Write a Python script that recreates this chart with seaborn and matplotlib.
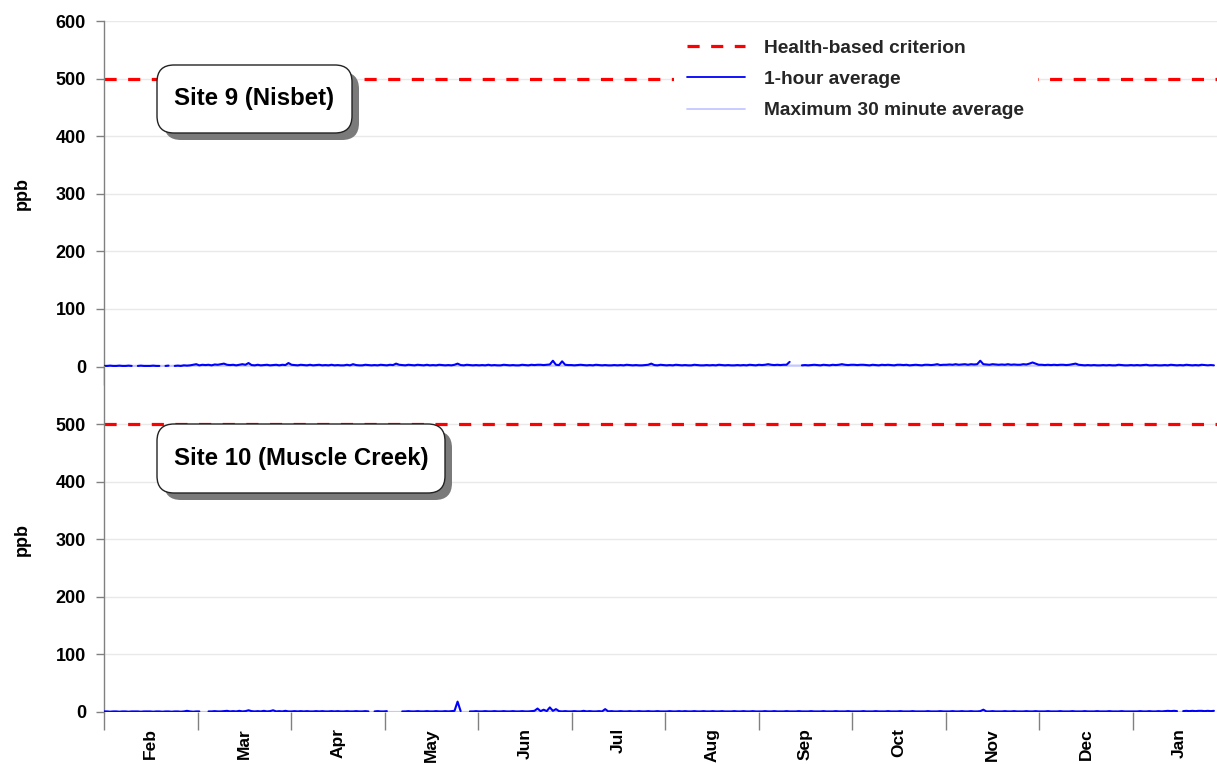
import numpy as np
import pandas as pd
import matplotlib
matplotlib.use("Agg")
import matplotlib.pyplot as plt
from matplotlib.lines import Line2D
from matplotlib.patches import FancyBboxPatch
import seaborn as sns

nan = np.nan

# ---- data -------------------------------------------------------------
months = ["Feb", "Mar", "Apr", "May", "Jun", "Jul",
          "Aug", "Sep", "Oct", "Nov", "Dec", "Jan"]
criterion_ppb = 500
y_ticks_top = [0, 100, 200, 300, 400, 500, 600]
y_ticks_bottom = [0, 100, 200, 300, 400, 500]

# Daily 1-hour average SO2 (ppb), Site 9 (Nisbet); NaN = no data
site9_hourly = [
    # Feb
    1, 1, 1.5, 1, 1, 1.5, 1, 1, 1.5, 1, nan, 1, 1.5, 1, 1, 1, 1.5, 1, 1, nan,
    1, 1.5, nan, 1, 1.5, 1, 2, 1.5, 2, 3,
    # Mar
    4, 2, 3, 2.5, 3, 2, 3.5, 3, 4, 5, 3, 2.5, 3, 2, 3, 4, 3, 6, 2.5, 2,
    3, 2, 2.5, 3, 2, 2.5, 3, 2, 3, 2.5, 6,
    # Apr
    3, 2.5, 2, 3, 2.5, 2, 3, 2, 2.5, 3, 2, 2.5, 2, 3, 2, 2.5, 2, 2, 3, 2,
    4, 2.5, 2, 2, 3, 2.5, 2, 2.5, 2, 3,
    # May
    2.5, 2, 3, 2.5, 5, 3, 2.5, 2, 3, 2.5, 2, 3, 2.5, 2, 3, 2, 2.5, 2, 3, 2.5,
    2, 2.5, 2, 3, 5, 2.5, 2, 3, 2.5, 2, 2.5,
    # Jun
    2, 2.5, 2, 3, 2, 2.5, 2, 2, 3, 2.5, 2, 2.5, 2, 2, 3, 2.5, 2, 3, 2.5, 3,
    3, 2.5, 3, 3.5, 10, 3, 2.5, 9, 3, 2.5,
    # Jul
    2.5, 2, 2.5, 3, 2.5, 2, 2.5, 2, 3, 2.5, 2, 2.5, 2, 2, 2.5, 2, 2.5, 2, 3, 2.5,
    2, 2.5, 2, 2, 2.5, 3, 5, 2.5, 2, 3, 2.5,
    # Aug
    2, 2.5, 2, 3, 2.5, 2, 2.5, 2, 2, 3, 2.5, 2, 2, 2.5, 2, 2.5, 2, 3, 2.5, 2,
    2.5, 2, 2, 2.5, 2, 2.5, 2, 3, 2.5, 2,
    # Sep
    3, 2.5, 3, 4, 3, 2.5, 3, 2.5, 3, 3, 8, nan, nan, nan, 2, 2.5, 2, 2.5, 3, 2.5,
    2, 3, 2.5, 2, 3, 2.5, 3, 4, 3, 2.5, 3,
    # Oct
    3, 2.5, 3, 3, 2.5, 2, 3, 2.5, 2, 3, 2.5, 3, 2.5, 2, 3, 3, 2.5, 3, 2, 2.5,
    3, 2.5, 2, 3, 3, 2.5, 3, 4, 2.5, 3,
    # Nov
    3, 3.5, 3, 4, 3, 3.5, 4, 3, 4, 3.5, 4, 10, 4, 3.5, 3, 4, 3.5, 3, 3.5, 3,
    4, 3, 3.5, 3, 3, 4, 3.5, 5, 7, 5, 3,
    # Dec
    3, 2.5, 3, 2.5, 3, 2.5, 3, 3, 2.5, 3, 4, 5, 3, 2.5, 2, 2.5, 2, 2.5, 2, 2,
    2.5, 2, 2.5, 2, 2, 3, 2.5, 2, 2, 2.5,
    # Jan
    2, 2.5, 2, 2.5, 3, 2, 2, 2.5, 2, 2, 2.5, 2, 3, 2.5, 2, 2.5, 2, 3, 2.5, 2,
    2.5, 2, 3, 2.5, 2, 2.5, 2,
]

# Daily 1-hour average SO2 (ppb), Site 10 (Muscle Creek)
site10_hourly = [
    # Feb
    1, 1, 0.5, 1, 1, 0.5, 1, 1, 0.5, 1, 1, 1, 0.5, 1, 1, 1, 0.5, 1, 1, 0.5,
    1, 1, 0.5, 1, 1, 0.5, 1, 2, 1, 0.5,
    # Mar
    1, 1, nan, nan, 1, 1, 1.5, 1, 1, 1.5, 2, 1, 1.5, 1, 2, 1, 1.5, 3, 1.5, 1,
    1.5, 1, 2, 1, 1.5, 3, 1, 1.5, 1, 2, 1,
    # Apr
    1, 1.5, 1, 1.5, 1, 1.5, 1, 1, 1.5, 1, 1.5, 1, 1, 1.5, 1, 1.5, 1, 1, 1.5, 1,
    1, 1.5, 1, 1, 1.5, 1, nan, 1, 1.5, 1,
    # May
    1, 1.5, nan, nan, nan, nan, 1, 1, 1.5, 1, 1, 1.5, 1, 1, 1.5, 1, 1, 1.5, 1, 1,
    1.5, 1, 1.5, 2, 18, 1.5, nan, nan, 1, 1, 1.5,
    # Jun
    1, 1, 1.5, 1, 1, 1.5, 1, 1, 1.5, 1, 1, 1.5, 1, 1, 1.5, 1, 1, 1.5, 2, 6,
    1.5, 4, 1.5, 8, 2, 5, 1.5, 1, 1.5, 1,
    # Jul
    1, 1.5, 1, 1, 2, 1, 1.5, 1, 1, 1.5, 1, 5, 1, 1.5, 1, 1, 1.5, 1, 1, 1.5,
    1, 1, 1.5, 1, 1, 1.5, 1, 1, 1.5, 1, 1,
    # Aug
    1, 1.5, 1, 1, 1.5, 1, 1.5, 1, 1, 1.5, 1, 1, 1.5, 1, 1, 1.5, 1, 1, 1.5, 1,
    1, 1, 1.5, 1, 1, 1.5, 1, 1, 1.5, 1,
    # Sep
    1, 1, 1.5, 1, 1, 1.5, 1, 1, 1, 1.5, 1, 1, 1, 1.5, 1, 1, 1, 1.5, 1, 1,
    1, 1.5, 1, 1, 1, 1.5, 1, 1, 1, 1.5, 1,
    # Oct
    1, 1, 1, 1.5, 1, 1, 1, 1.5, 1, 1, 1, 1.5, 1, 1, 1, 1.5, 1, 1, 1, 1.5,
    1, 1, 1, 1, 1.5, 1, 1, 1, 1.5, 1,
    # Nov
    1, 1, 1.5, 1, 1, 1.5, 1, 1, 1.5, 1, 1, 1.5, 4, 1, 1, 1.5, 1, 1, 1, 1.5,
    1, 1, 1.5, 1, 1, 1, 1.5, 1, 1, 1.5, 1,
    # Dec
    1, 1, 1.5, 1, 1, 1, 1.5, 1, 1, 1, 1.5, 1, 1, 1, 1.5, 1, 1, 1, 1.5, 1,
    1, 1, 1.5, 1, 1, 1, 1.5, 1, 1, 1,
    # Jan
    1, 1, 1.5, 1, 1, 1.5, 1, 1, 1.5, 1, 1.5, 2, 1.5, 2, 1.5, nan, 1.5, 2, 1.5, 2,
    1.5, 2, 2, 1.5, 2, 1.5, 2,
]

# Weekly maximum 30-minute average (ppb)
site9_max30 = [
    1, 1, 1, 1, 1.5, 1.5, 1.5, 1.5, 1.5, 1.5, 1.5, 1.5, 1.5,
    1.5, 1.5, 1.5, 1.5, 1.5, 1.5, 1.5, 1.5, 1.5, 1.5, 1.5, 1.5, 1.5,
    1.5, 1.5, 1.5, 1.5, 1.5, 1.5, 1.5, 1.5, 1.5, 1.5, 1.5, 1.5, 1.5,
    1.5, 1.5, 1.5, 1.5, 1.5, 1.5, 1.5, 1.5, 1.5, 1.5, 1.5, 1.5, 1.5,
]
site10_max30 = [
    0.5, 0.5, 0.5, 0.5, 0.5, 0.5, 0.5, 0.5, 0.5, 0.5, 0.5, 0.5, 0.5,
    0.5, 0.5, 0.5, 0.5, 0.5, 0.5, 0.5, 0.5, 0.5, 0.5, 0.5, 0.5, 0.5,
    0.5, 0.5, 0.5, 0.5, 0.5, 0.5, 0.5, 0.5, 0.5, 0.5, 0.5, 0.5, 0.5,
    0.5, 0.5, 0.5, 0.5, 0.5, 0.5, 0.5, 0.5, 0.5, 0.5, 0.5, 0.5, 0.5,
]

site_names = ["Site 9 (Nisbet)", "Site 10 (Muscle Creek)"]

# ---- styling ----------------------------------------------------------
sns.set_theme(style="white")
plt.rcParams["font.family"] = ["Liberation Sans", "DejaVu Sans"]
plt.rcParams["font.weight"] = "bold"

BLUE = "#0000ff"
LIGHT_BLUE = "#c4c8ff"
RED = "#ff0000"
AXIS_GREY = "#808080"
GRID_GREY = "#e9e9e9"
DASH = (0, (3.8, 3.6))

DAYS_PER_MONTH = 365 / 12
N_DAYS = len(site9_hourly)


def daily_frame(values):
    """Daily values as a frame; each run without gaps gets its own unit id."""
    df = pd.DataFrame({"day": np.arange(len(values)), "ppb": values})
    df["run"] = df["ppb"].isna().cumsum()
    return df.dropna()


def weekly_frame(values):
    return pd.DataFrame({"day": np.arange(len(values)) * 7.0, "ppb": values,
                         "run": 0})


fig, axes = plt.subplots(2, 1, figsize=(12.17, 7.64), dpi=100, sharex=True)
fig.subplots_adjust(left=104 / 1217, right=1.0, top=1 - 21 / 764,
                    bottom=1 - 712 / 764, hspace=0)

series = [(site9_hourly, site9_max30, y_ticks_top),
          (site10_hourly, site10_max30, y_ticks_bottom)]

boundaries = np.arange(len(months)) * DAYS_PER_MONTH
centres = boundaries + DAYS_PER_MONTH / 2

for ax, (hourly, max30, yticks) in zip(axes, series):
    sns.lineplot(data=weekly_frame(max30), x="day", y="ppb", units="run",
                 estimator=None, color=LIGHT_BLUE, lw=1.6, ax=ax,
                 legend=False, zorder=2)
    sns.lineplot(data=daily_frame(hourly), x="day", y="ppb", units="run",
                 estimator=None, color=BLUE, lw=1.5, ax=ax, legend=False,
                 zorder=3)
    ax.axhline(criterion_ppb, color=RED, lw=2.3, linestyle=DASH, zorder=2.5)

    ax.set_ylim(0, 600)
    ax.set_xlim(0, N_DAYS)
    ax.set_yticks(yticks)
    ax.set_yticklabels([str(v) for v in yticks], fontsize=13,
                       fontweight="bold", color="black")
    ax.yaxis.grid(True, color=GRID_GREY, lw=1)
    ax.xaxis.grid(False)
    ax.set_ylabel("ppb", fontsize=13, fontweight="bold", color="black",
                  labelpad=18)
    ax.set_xlabel("")

    for side in ("top", "right", "bottom"):
        ax.spines[side].set_visible(False)
    ax.spines["left"].set_color(AXIS_GREY)
    ax.spines["left"].set_linewidth(1)

    ax.tick_params(axis="y", which="major", left=True, length=6,
                   color=AXIS_GREY, width=1, pad=7)

    ax.set_xticks(boundaries)
    ax.set_xticklabels([""] * len(months))
    ax.set_xticks(centres, minor=True)
    ax.tick_params(axis="x", which="major", bottom=True, length=13,
                   color=AXIS_GREY, width=1)
    ax.tick_params(axis="x", which="minor", bottom=True, length=0)

axes[1].set_xticks(centres, minor=True)
axes[1].set_xticklabels(months, minor=True, rotation=90, fontsize=12.5,
                        fontweight="bold", color="black")
axes[1].tick_params(axis="x", which="minor", pad=11.5)
axes[0].tick_params(axis="x", which="both", labelbottom=False)

# ---- site label boxes (rounded, with drop shadow) --------------------
label_boxes = [
    # x0, y0, width, height in inches from the lower-left corner
    (1.57, 6.31, 1.95, 0.68),
    (1.57, 2.71, 2.88, 0.69),
]
for name, (x0, y0, w, h) in zip(site_names, label_boxes):
    shadow = FancyBboxPatch((x0 + 0.07, y0 - 0.07), w, h,
                            boxstyle="round,pad=0,rounding_size=0.17",
                            transform=fig.dpi_scale_trans, facecolor="#7a7a7a",
                            edgecolor="none", zorder=8)
    box = FancyBboxPatch((x0, y0), w, h,
                         boxstyle="round,pad=0,rounding_size=0.17",
                         transform=fig.dpi_scale_trans, facecolor="white",
                         edgecolor="#222222", lw=1.0, zorder=9)
    fig.add_artist(shadow)
    fig.add_artist(box)
    fig.text(x0 + w / 2, y0 + h / 2, name, transform=fig.dpi_scale_trans,
             ha="center", va="center", fontsize=17.3, fontweight="bold",
             color="black", zorder=10)

# ---- legend ------------------------------------------------------------
handles = [
    Line2D([], [], color=RED, lw=2.3, linestyle=DASH),
    Line2D([], [], color=BLUE, lw=1.3),
    Line2D([], [], color=LIGHT_BLUE, lw=1.3),
]
labels = ["Health-based criterion", "1-hour average",
          "Maximum 30 minute average"]
leg = axes[0].legend(handles, labels, loc="upper left",
                     bbox_to_anchor=((674 - 104) / 1113, (367 - 26) / 346),
                     borderaxespad=0, borderpad=0.7, frameon=True,
                     facecolor="white", edgecolor="none", framealpha=1.0,
                     fancybox=False, handlelength=3.0, handletextpad=1.0,
                     labelspacing=0.72, prop={"size": 13.8, "weight": "bold"})
leg.set_zorder(7)

fig.savefig("out.png", dpi=100)
